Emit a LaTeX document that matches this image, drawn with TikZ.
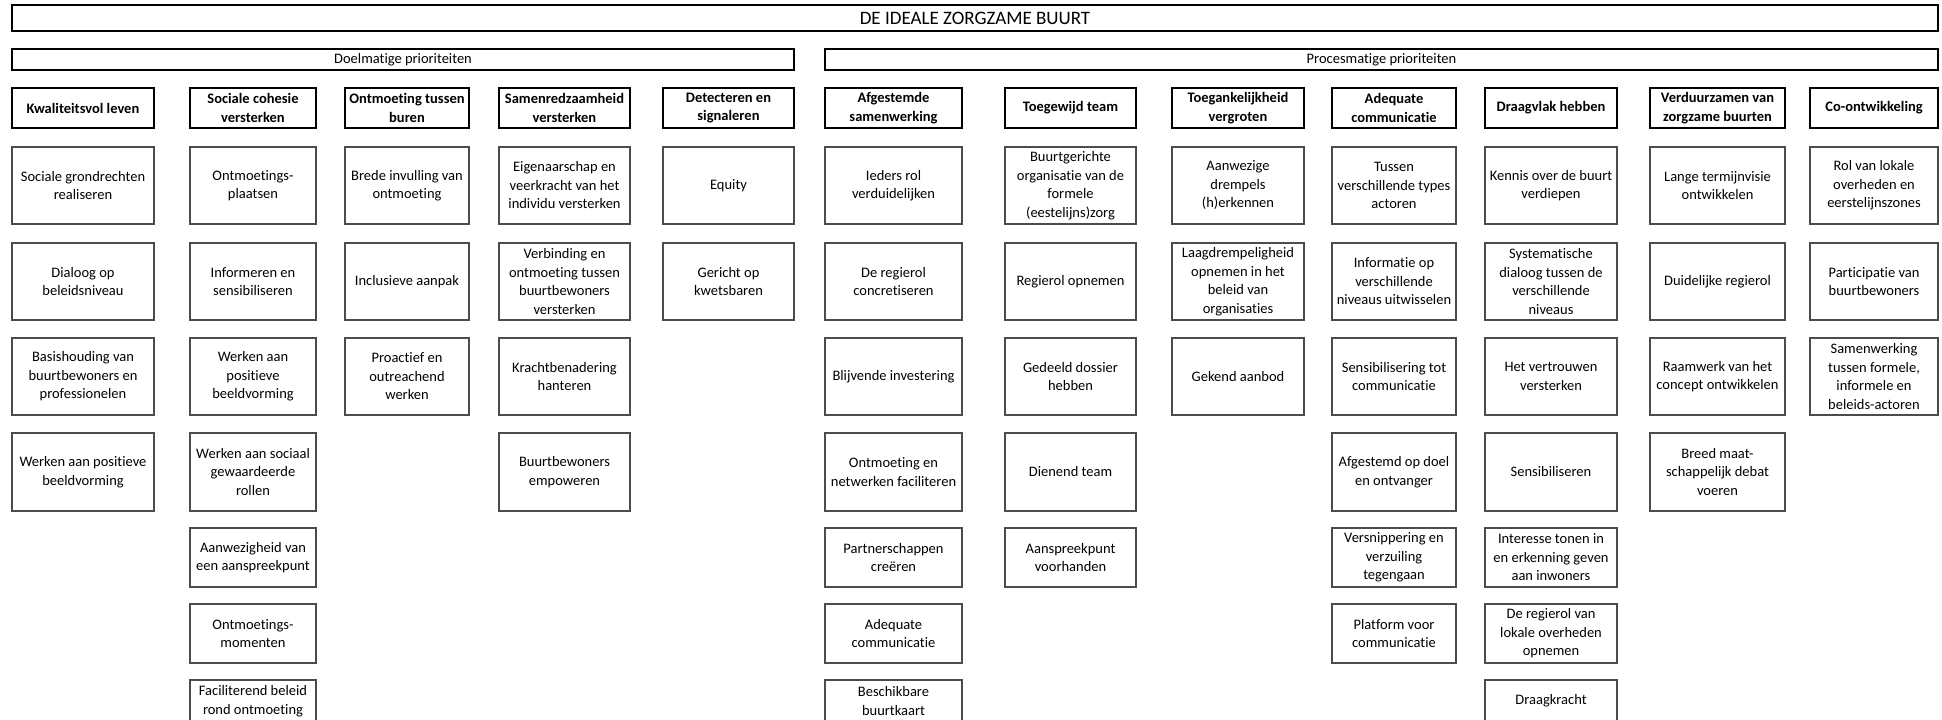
\documentclass[tikz,border=0pt]{standalone}
\usepackage{fontspec}
\setmainfont{Carlito}[Ligatures=NoCommon]
\begin{document}
\begin{tikzpicture}[x=1bp,y=-1bp,
  boxfont/.style={font=\fontsize{14.5bp}{18.5bp}\selectfont},
  topbox/.style={draw=black, line width=2.2bp, inner sep=0.5bp, align=center},
  head/.style={draw=black, line width=2.2bp, inner sep=0.5bp, align=center,
    font=\fontsize{14.5bp}{18.5bp}\selectfont\bfseries},
  entry/.style={draw=black!70, line width=1.1bp, inner sep=0.5bp, align=center,
    font=\fontsize{14.5bp}{18.5bp}\selectfont},
]
\useasboundingbox (0,0) rectangle (1942,720);
\clip (0,0) rectangle (1942,720);

% column edges (left / right) and row edges (top / bottom); row 0 is the header row
\def\Lcols{{0,12,190,345,499,663,825,1005,1172,1332,1485,1650,1810}}
\def\Rcols{{0,154,316,469,630,794,962,1136,1304,1456,1617,1785,1938}}
\def\Trows{{88,147,243,338,433,528,604,680}}
\def\Brows{{128,224,320,415,511,587,663,722}}

\newcommand\putcell[5]{% name, column, row, style, text
  \pgfmathsetmacro\cellL{\Lcols[#2]}%
  \pgfmathsetmacro\cellR{\Rcols[#2]}%
  \pgfmathsetmacro\cellT{\Trows[#3]}%
  \pgfmathsetmacro\cellB{\Brows[#3]}%
  \node[#4, minimum width={(\cellR-\cellL)*1bp}, minimum height={(\cellB-\cellT)*1bp}]
    (#1) at ({(\cellL+\cellR)/2},{(\cellT+\cellB)/2}) {#5};}

% title and the two priority groups
\node[topbox, minimum width=1926bp, minimum height=26bp,
  font=\fontsize{19bp}{22bp}\selectfont] (title) at (975,18) {DE IDEALE ZORGZAME BUURT};
\node[topbox, boxfont, minimum width=782bp, minimum height=21bp] (doel) at (403,59.5) {Doelmatige prioriteiten};
\node[topbox, boxfont, minimum width=1113bp, minimum height=21bp] (proces) at (1381.5,59.5) {Procesmatige prioriteiten};

% column headers
\putcell{h1}{1}{0}{head}{Kwaliteitsvol leven}
\putcell{h2}{2}{0}{head}{Sociale cohesie\\versterken}
\putcell{h3}{3}{0}{head}{Ontmoeting tussen\\buren}
\putcell{h4}{4}{0}{head}{Samenredzaamheid\\versterken}
\putcell{h5}{5}{0}{head}{Detecteren en\\signaleren}
\putcell{h6}{6}{0}{head}{Afgestemde\\samenwerking}
\putcell{h7}{7}{0}{head}{Toegewijd team}
\putcell{h8}{8}{0}{head}{Toegankelijkheid\\vergroten}
\putcell{h9}{9}{0}{head}{Adequate\\communicatie}
\putcell{h10}{10}{0}{head}{Draagvlak hebben}
\putcell{h11}{11}{0}{head}{Verduurzamen van\\zorgzame buurten}
\putcell{h12}{12}{0}{head}{Co-ontwikkeling}

% Kwaliteitsvol leven
\putcell{c1r1}{1}{1}{entry}{Sociale grondrechten\\realiseren}
\putcell{c1r2}{1}{2}{entry}{Dialoog op\\beleidsniveau}
\putcell{c1r3}{1}{3}{entry}{Basishouding van\\buurtbewoners en\\professionelen}
\putcell{c1r4}{1}{4}{entry}{Werken aan positieve\\beeldvorming}

% Sociale cohesie versterken
\putcell{c2r1}{2}{1}{entry}{Ontmoetings-\\plaatsen}
\putcell{c2r2}{2}{2}{entry}{Informeren en\\sensibiliseren}
\putcell{c2r3}{2}{3}{entry}{Werken aan\\positieve\\beeldvorming}
\putcell{c2r4}{2}{4}{entry}{Werken aan sociaal\\gewaardeerde\\rollen}
\putcell{c2r5}{2}{5}{entry}{Aanwezigheid van\\een aanspreekpunt}
\putcell{c2r6}{2}{6}{entry}{Ontmoetings-\\momenten}
\putcell{c2r7}{2}{7}{entry}{Faciliterend beleid\\rond ontmoeting}

% Ontmoeting tussen buren
\putcell{c3r1}{3}{1}{entry}{Brede invulling van\\ontmoeting}
\putcell{c3r2}{3}{2}{entry}{Inclusieve aanpak}
\putcell{c3r3}{3}{3}{entry}{Proactief en\\outreachend\\werken}

% Samenredzaamheid versterken
\putcell{c4r1}{4}{1}{entry}{Eigenaarschap en\\veerkracht van het\\individu versterken}
\putcell{c4r2}{4}{2}{entry}{Verbinding en\\ontmoeting tussen\\buurtbewoners\\versterken}
\putcell{c4r3}{4}{3}{entry}{Krachtbenadering\\hanteren}
\putcell{c4r4}{4}{4}{entry}{Buurtbewoners\\empoweren}

% Detecteren en signaleren
\putcell{c5r1}{5}{1}{entry}{Equity}
\putcell{c5r2}{5}{2}{entry}{Gericht op\\kwetsbaren}

% Afgestemde samenwerking
\putcell{c6r1}{6}{1}{entry}{Ieders rol\\verduidelijken}
\putcell{c6r2}{6}{2}{entry}{De regierol\\concretiseren}
\putcell{c6r3}{6}{3}{entry}{Blijvende investering}
\putcell{c6r4}{6}{4}{entry}{Ontmoeting en\\netwerken faciliteren}
\putcell{c6r5}{6}{5}{entry}{Partnerschappen\\creëren}
\putcell{c6r6}{6}{6}{entry}{Adequate\\communicatie}
\putcell{c6r7}{6}{7}{entry}{Beschikbare\\buurtkaart}

% Toegewijd team
\putcell{c7r1}{7}{1}{entry}{Buurtgerichte\\organisatie van de\\formele\\(eestelijns)zorg}
\putcell{c7r2}{7}{2}{entry}{Regierol opnemen}
\putcell{c7r3}{7}{3}{entry}{Gedeeld dossier\\hebben}
\putcell{c7r4}{7}{4}{entry}{Dienend team}
\putcell{c7r5}{7}{5}{entry}{Aanspreekpunt\\voorhanden}

% Toegankelijkheid vergroten
\putcell{c8r1}{8}{1}{entry}{Aanwezige\\drempels\\(h)erkennen}
\putcell{c8r2}{8}{2}{entry}{Laagdrempeligheid\\opnemen in het\\beleid van\\organisaties}
\putcell{c8r3}{8}{3}{entry}{Gekend aanbod}

% Adequate communicatie
\putcell{c9r1}{9}{1}{entry}{Tussen\\verschillende types\\actoren}
\putcell{c9r2}{9}{2}{entry}{Informatie op\\verschillende\\niveaus uitwisselen}
\putcell{c9r3}{9}{3}{entry}{Sensibilisering tot\\communicatie}
\putcell{c9r4}{9}{4}{entry}{Afgestemd op doel\\en ontvanger}
\putcell{c9r5}{9}{5}{entry}{Versnippering en\\verzuiling\\tegengaan}
\putcell{c9r6}{9}{6}{entry}{Platform voor\\communicatie}

% Draagvlak hebben
\putcell{c10r1}{10}{1}{entry}{Kennis over de buurt\\verdiepen}
\putcell{c10r2}{10}{2}{entry}{Systematische\\dialoog tussen de\\verschillende\\niveaus}
\putcell{c10r3}{10}{3}{entry}{Het vertrouwen\\versterken}
\putcell{c10r4}{10}{4}{entry}{Sensibiliseren}
\putcell{c10r5}{10}{5}{entry}{Interesse tonen in\\en erkenning geven\\aan inwoners}
\putcell{c10r6}{10}{6}{entry}{De regierol van\\lokale overheden\\opnemen}
\putcell{c10r7}{10}{7}{entry}{Draagkracht}

% Verduurzamen van zorgzame buurten
\putcell{c11r1}{11}{1}{entry}{Lange termijnvisie\\ontwikkelen}
\putcell{c11r2}{11}{2}{entry}{Duidelijke regierol}
\putcell{c11r3}{11}{3}{entry}{Raamwerk van het\\concept ontwikkelen}
\putcell{c11r4}{11}{4}{entry}{Breed maat-\\schappelijk debat\\voeren}

% Co-ontwikkeling
\putcell{c12r1}{12}{1}{entry}{Rol van lokale\\overheden en\\eerstelijnszones}
\putcell{c12r2}{12}{2}{entry}{Participatie van\\buurtbewoners}
\putcell{c12r3}{12}{3}{entry}{Samenwerking\\tussen formele,\\informele en\\beleids-actoren}
\end{tikzpicture}
\end{document}
